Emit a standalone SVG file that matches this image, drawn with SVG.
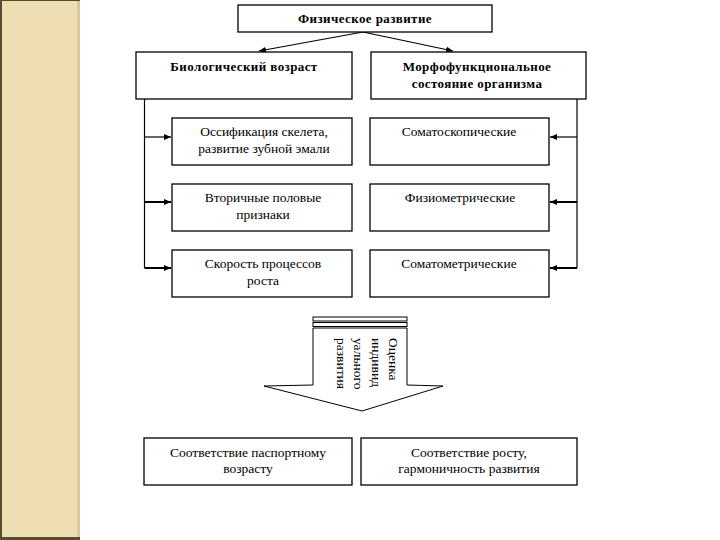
<svg xmlns="http://www.w3.org/2000/svg" width="720" height="540" viewBox="0 0 720 540">
<style>
.box{fill:#fff;stroke:#000;stroke-width:1.3}
text{font-family:'Liberation Serif','Times New Roman','DejaVu Serif',serif;fill:#000}
.t{font-size:13.5px;text-anchor:middle}
.b{font-size:13px;font-weight:bold;text-anchor:middle;letter-spacing:0.4px}
.c{fill:none;stroke:#000;stroke-width:1.2}
.ct{fill:none;stroke:#000;stroke-width:2}
</style>
<defs>
<marker id="ah" markerWidth="8" markerHeight="8" refX="7" refY="4" orient="auto" markerUnits="userSpaceOnUse">
<path d="M0,1 L7,4 L0,7 Z" fill="#000"/>
</marker>
</defs>
<rect width="720" height="540" fill="#fff"/>
<g id="sidebar">
<rect x="0" y="0" width="80" height="540" fill="#EEDDB0"/>
<rect x="77" y="0" width="3" height="540" fill="#D8C79A"/>
<rect x="0" y="0" width="2" height="540" fill="#5A4A30"/>
<rect x="0" y="537" width="80" height="3" fill="#5A4A30"/>
<rect x="0" y="0" width="80" height="1" fill="#5A4A30"/>
</g>
<g id="connectors">
<line class="c" x1="363" y1="32" x2="259" y2="51" marker-end="url(#ah)"/>
<line class="c" x1="363" y1="32" x2="453" y2="51" marker-end="url(#ah)"/>
<polyline class="c" points="144.5,99 144.5,268"/>
<polyline class="c" points="577,99 577,268"/>
<line class="c" x1="144.5" y1="137" x2="171" y2="137" marker-end="url(#ah)"/>
<line class="ct" x1="144.5" y1="202" x2="171" y2="202" marker-end="url(#ah)"/>
<line class="ct" x1="144.5" y1="268" x2="171" y2="268" marker-end="url(#ah)"/>
<line class="c" x1="577" y1="137" x2="550" y2="137" marker-end="url(#ah)"/>
<line class="ct" x1="577" y1="202" x2="550" y2="202" marker-end="url(#ah)"/>
<line class="ct" x1="577" y1="268" x2="550" y2="268" marker-end="url(#ah)"/>
</g>
<g id="n-top">
<rect class="box" x="238" y="5" width="254" height="27"/>
<text class="b" x="365" y="23">Физическое развитие</text>
</g>
<g id="n-bio">
<rect class="box" x="136" y="52" width="216" height="47"/>
<text class="b" x="244" y="71">Биологический возраст</text>
</g>
<g id="n-morph">
<rect class="box" x="371" y="52" width="215" height="47"/>
<text class="b" x="477" y="71">Морфофункциональное</text>
<text class="b" x="477" y="88">состояние организма</text>
</g>
<g id="n-oss">
<rect class="box" x="172" y="118" width="180" height="47"/>
<text class="t" x="264" y="136">Оссификация скелета,</text>
<text class="t" x="264" y="153">развитие зубной эмали</text>
</g>
<g id="n-vtor">
<rect class="box" x="172" y="184" width="180" height="47"/>
<text class="t" x="263" y="202">Вторичные половые</text>
<text class="t" x="263" y="219">признаки</text>
</g>
<g id="n-skor">
<rect class="box" x="172" y="250" width="180" height="47"/>
<text class="t" x="263" y="268">Скорость процессов</text>
<text class="t" x="263" y="285">роста</text>
</g>
<g id="n-somsk">
<rect class="box" x="370" y="118" width="179" height="47"/>
<text class="t" x="459" y="136">Соматоскопические</text>
</g>
<g id="n-fiz">
<rect class="box" x="370" y="184" width="179" height="47"/>
<text class="t" x="460" y="202">Физиометрические</text>
</g>
<g id="n-sommet">
<rect class="box" x="370" y="250" width="179" height="47"/>
<text class="t" x="459" y="268">Соматометрические</text>
</g>
<g id="n-arrow">
<rect x="313" y="317" width="94" height="4" fill="#fff" stroke="#000" stroke-width="1"/>
<rect x="313" y="322.5" width="94" height="4" fill="#fff" stroke="#000" stroke-width="1"/>
<path d="M313,328 L407,328 L407,385 L443,386 L362,411 L264,386 L313,385 Z" fill="#fff" stroke="#000" stroke-width="1"/>
<text font-size="13.5" transform="translate(389,338) rotate(90)"><tspan x="0" dy="0">Оценка</tspan><tspan x="0" dy="17">индивид</tspan><tspan x="0" dy="18">уального</tspan><tspan x="0" dy="17">развития</tspan></text>
</g>
<g id="n-pasp">
<rect class="box" x="144" y="438" width="208" height="47"/>
<text class="t" x="248" y="457">Соответствие паспортному</text>
<text class="t" x="248" y="473">возрасту</text>
</g>
<g id="n-rost">
<rect class="box" x="361" y="438" width="216" height="47"/>
<text class="t" x="469" y="457">Соответствие росту,</text>
<text class="t" x="469" y="473">гармоничность развития</text>
</g>
</svg>
